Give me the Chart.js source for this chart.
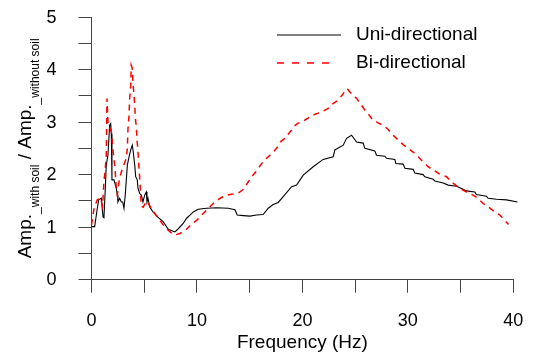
<!DOCTYPE html>
<html><head><meta charset="utf-8">
<script src="https://cdn.jsdelivr.net/npm/chart.js@4.4.0/dist/chart.umd.min.js"></script>
<style>html,body{margin:0;padding:0;background:#fff;overflow:hidden}canvas{display:block}</style>
</head><body>
<canvas id="c" width="535" height="354"></canvas>
<script>
const seriesNames = ['Uni-directional', 'Bi-directional'];
const xTitle = 'Frequency (Hz)';
const yTitleParts = [['Amp.', false], ['_with soil', true], [' / Amp.', false], ['_without soil', true]];
const xTickLabels = [0, 10, 20, 30, 40];
const yTickLabels = [0, 1, 2, 3, 4, 5];

const uniFreq = [0,0.3,0.55,0.68,0.93,1.09,1.18,1.31,1.40,1.56,1.63,1.72,1.82,1.88,1.94,2.13,2.35,2.45,2.51,2.67,2.83,2.96,3.08,3.20,3.40,3.53,3.72,3.87,3.96,4.10,4.19,4.34,4.41,4.57,4.72,4.88,5.04,5.20,5.26,5.36,5.51,5.83,6.24,6.81,7.28,7.91,8.23,8.70,9.02,9.34,9.65,10.12,10.92,11.87,12.97,13.60,13.82,14.39,15.02,15.66,16.28,16.76,17.23,17.71,18.18,18.98,19.45,20.08,21.02,21.97,22.92,23.08,23.87,24.19,24.66,25.14,25.76,25.92,26.87,27.03,27.82,27.98,28.77,28.86,29.55,29.72,30.50,30.66,31.45,31.61,32.40,32.56,33.35,33.82,34.62,35.24,35.56,36.35,36.50,37.46,37.61,38.41,39.36,40.40];
const uniAmp  = [1.01,1.01,1.36,1.52,1.55,1.20,1.18,1.74,2.18,2.37,2.62,2.94,2.97,2.78,1.90,1.90,1.74,1.61,1.48,1.55,1.48,1.48,1.36,1.61,2.18,2.31,2.47,2.56,2.43,2.18,1.96,1.90,1.74,1.64,1.61,1.48,1.61,1.67,1.48,1.55,1.39,1.29,1.20,1.10,0.96,0.91,0.97,1.07,1.17,1.23,1.29,1.34,1.36,1.37,1.36,1.33,1.23,1.22,1.21,1.23,1.24,1.36,1.43,1.47,1.58,1.77,1.80,1.99,2.15,2.29,2.34,2.47,2.56,2.69,2.75,2.62,2.60,2.50,2.45,2.37,2.35,2.31,2.29,2.21,2.20,2.12,2.10,2.03,2.00,1.96,1.91,1.88,1.84,1.80,1.78,1.72,1.69,1.67,1.62,1.59,1.55,1.53,1.52,1.48];

const biFreq = [0,0.24,0.55,0.87,0.95,1.05,1.18,1.31,1.40,1.47,1.56,1.75,1.90,2.04,2.23,2.35,2.45,2.58,2.67,2.83,3.00,3.30,3.40,3.46,3.55,3.62,3.72,3.77,3.87,3.93,4.03,4.10,4.15,4.25,4.31,4.41,4.47,4.57,4.63,4.72,4.90,5.23,5.55,5.86,6.33,6.97,7.50,7.91,8.39,9.02,9.50,9.97,10.45,10.90,11.40,11.70,12.20,12.80,13.40,14.00,14.40,14.86,15.20,15.60,16.10,16.60,17.10,17.55,17.90,18.34,18.98,19.13,19.60,20.08,20.70,21.20,21.80,22.45,22.90,23.40,23.87,24.12,24.30,24.66,25.14,25.60,25.92,26.24,26.56,27.20,27.66,28.13,28.45,29.08,29.50,30.03,30.50,30.98,31.45,31.92,32.40,33.03,33.67,34.14,34.93,35.56,36.19,36.66,37.14,37.61,38.25,38.72,39.19,39.55];
const biAmp  = [1.04,1.36,1.52,1.56,1.48,1.40,1.87,2.12,2.37,3.45,3.00,2.89,2.80,2.46,2.12,1.74,1.61,1.83,1.93,2.05,2.15,2.31,2.50,2.88,3.10,3.45,3.70,4.08,4.02,3.76,3.51,3.32,3.10,2.91,2.69,2.43,2.24,1.93,1.74,1.40,1.38,1.50,1.40,1.30,1.17,1.00,0.90,0.85,0.88,0.96,1.06,1.13,1.23,1.32,1.42,1.48,1.55,1.61,1.63,1.66,1.72,1.86,1.96,2.06,2.20,2.31,2.40,2.50,2.62,2.69,2.85,2.91,2.98,3.02,3.10,3.15,3.19,3.26,3.35,3.42,3.54,3.63,3.62,3.54,3.45,3.32,3.23,3.16,3.07,2.98,2.94,2.86,2.78,2.66,2.58,2.50,2.43,2.34,2.24,2.15,2.09,2.01,1.96,1.86,1.74,1.67,1.61,1.55,1.45,1.39,1.29,1.23,1.13,1.05];

const FONT = "'Liberation Sans', Arial, Helvetica, sans-serif";
const AXIS = '#444';
const TICK_LEN = 13;

function pts(xs, ys) { return xs.map((x, i) => ({x: x, y: ys[i]})); }

const overlay = {
  id: 'overlay',
  afterDraw(chart) {
    const ctx = chart.ctx;
    const area = chart.chartArea;
    const ys = chart.scales.y;
    // y ticks and labels from the y scale
    ctx.save();
    ctx.strokeStyle = AXIS;
    ctx.lineWidth = 1;
    ctx.fillStyle = '#000';
    ctx.font = '18px ' + FONT;
    ctx.textAlign = 'right';
    ctx.textBaseline = 'middle';
    const lx = Math.floor(area.left) + 0.5;
    ys.ticks.forEach(t => {
      const py = Math.floor(ys.getPixelForValue(t.value)) + 0.5;
      ctx.beginPath(); ctx.moveTo(lx - TICK_LEN, py); ctx.lineTo(lx, py); ctx.stroke();
      if (yTickLabels.includes(t.value)) ctx.fillText(String(t.value), lx - TICK_LEN - 22, py + 1);
    });
    ctx.restore();
    // legend
    ctx.save();
    ctx.font = '19px ' + FONT;
    ctx.textBaseline = 'middle';
    ctx.fillStyle = '#000';
    ctx.lineWidth = 1.2;
    ctx.strokeStyle = '#000';
    ctx.setLineDash([]);
    ctx.beginPath(); ctx.moveTo(277, 35); ctx.lineTo(341, 35); ctx.stroke();
    ctx.fillText(seriesNames[0], 356, 35);
    ctx.strokeStyle = '#ff0000';
    ctx.lineWidth = 1.5;
    ctx.setLineDash([7, 8]);
    ctx.beginPath(); ctx.moveTo(277, 63); ctx.lineTo(337, 63); ctx.stroke();
    ctx.setLineDash([]);
    ctx.fillText(seriesNames[1], 356, 63);
    ctx.restore();
    // y title with subscripts
    ctx.save();
    const cy = (area.top + area.bottom) / 2;
    ctx.translate(31, cy);
    ctx.rotate(-Math.PI / 2);
    ctx.fillStyle = '#000';
    ctx.textBaseline = 'alphabetic';
    let total = 0;
    const widths = yTitleParts.map(p => {
      ctx.font = (p[1] ? '12px ' : '19px ') + FONT;
      const w = ctx.measureText(p[0]).width; total += w; return w;
    });
    let x = -total / 2;
    yTitleParts.forEach((p, i) => {
      ctx.font = (p[1] ? '12px ' : '19px ') + FONT;
      ctx.fillText(p[0], x, p[1] ? 8 : 0);
      x += widths[i];
    });
    ctx.restore();
  }
};

new Chart(document.getElementById('c'), {
  type: 'line',
  data: {
    datasets: [
      { label: seriesNames[1], data: pts(biFreq, biAmp), borderColor: '#ff0000', borderWidth: 1.5,
        borderDash: [6, 5], pointRadius: 0, tension: 0, fill: false, clip: false, order: 0 },
      { label: seriesNames[0], data: pts(uniFreq, uniAmp), borderColor: '#000', borderWidth: 1.1,
        pointRadius: 0, tension: 0, fill: false, clip: false, order: 1 }
    ]
  },
  options: {
    responsive: false,
    animation: false,
    devicePixelRatio: 1,
    layout: { padding: { top: 17, right: 21.7, left: 0, bottom: 0 } },
    plugins: { legend: { display: false }, tooltip: { enabled: false } },
    scales: {
      x: {
        type: 'linear', min: 0, max: 40,
        afterFit: s => { s.height = 74.3; s.paddingLeft = 0; s.paddingRight = 0; },
        grid: { display: true, drawOnChartArea: false, drawTicks: true, tickLength: TICK_LEN, color: AXIS, lineWidth: 1 },
        border: { display: true, color: AXIS, width: 1 },
        ticks: { stepSize: 5, autoSkip: false, maxRotation: 0, padding: 18, color: '#000',
          font: { family: FONT, size: 18 },
          callback: v => xTickLabels.includes(v) ? String(v) : '' },
        title: { display: true, text: xTitle, color: '#000', font: { family: FONT, size: 19 }, padding: { top: 0, bottom: 0 } }
      },
      y: {
        type: 'linear', min: 0, max: 5,
        afterFit: s => { s.width = 91.5; s.paddingTop = 0; s.paddingBottom = 0; },
        grid: { display: true, drawOnChartArea: false, drawTicks: false, color: AXIS, lineWidth: 1 },
        border: { display: true, color: AXIS, width: 1 },
        ticks: { stepSize: 0.5, autoSkip: false, display: false }
      }
    }
  },
  plugins: [overlay]
});
</script>
</body></html>
